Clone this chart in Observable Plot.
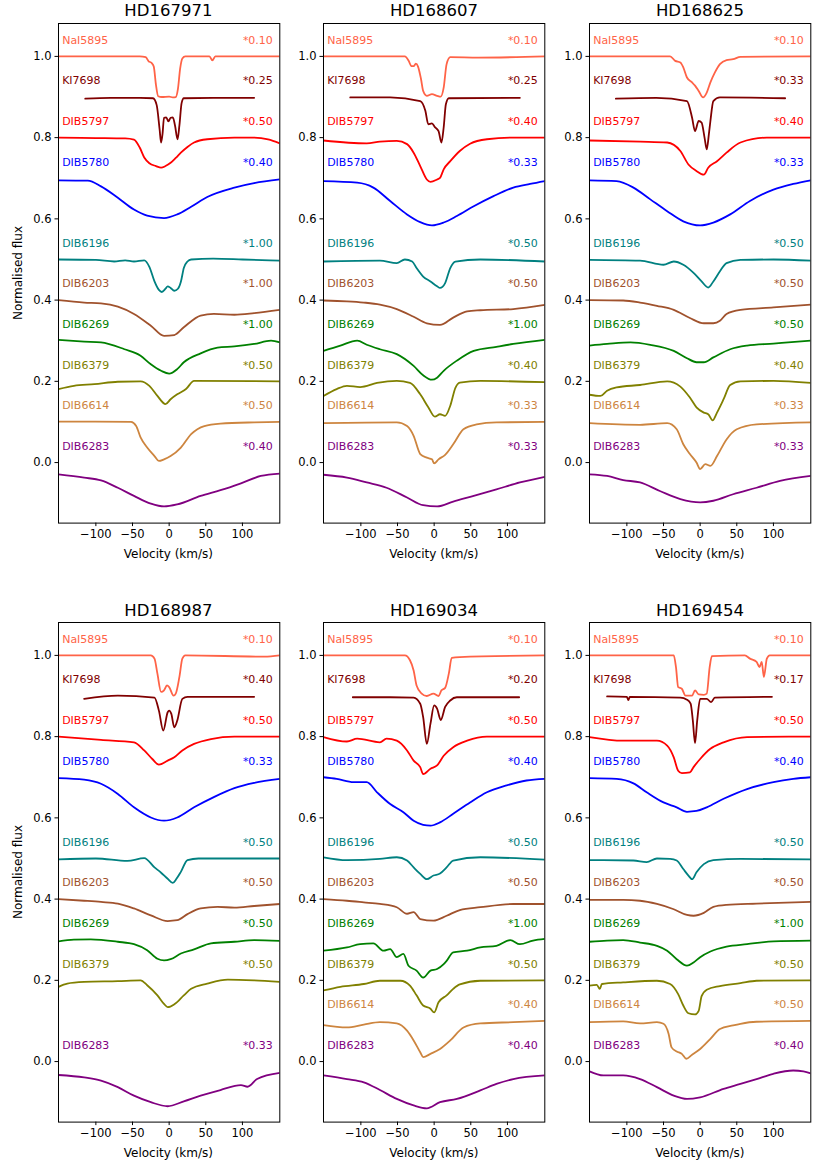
<!DOCTYPE html>
<html>
<head>
<meta charset="utf-8">
<script src="https://cdn.jsdelivr.net/npm/d3@7"></script>
<script src="https://cdn.jsdelivr.net/npm/@observablehq/plot@0.6"></script>
<style>
  html, body { margin: 0; padding: 0; background: #fff; }
  #fig { position: relative; width: 827px; height: 1169px; font-family: "DejaVu Sans", sans-serif; color: #000; }
  .ttl { position: absolute; font-size: 16.5px; transform: translate(-50%, -50%); white-space: nowrap; }
  .xl { position: absolute; font-size: 12px; transform: translate(-50%, -50%); white-space: nowrap; }
  .yl { position: absolute; font-size: 12px; transform: translate(-50%, -50%) rotate(-90deg); white-space: nowrap; }
  .pn { position: absolute; }
  #fig g[aria-label="x-axis tick label"], #fig g[aria-label="y-axis tick label"] { font-size: 11.5px; font-family: "DejaVu Sans", sans-serif; }
</style>
</head>
<body>
<div id="fig"></div>
<script>
// ---------- categories ----------
const stars = ["HD167971", "HD168607", "HD168625", "HD168987", "HD169034", "HD169454"];
const lineNames = ["NaI5895", "KI7698", "DIB5797", "DIB5780", "DIB6196", "DIB6203", "DIB6269", "DIB6379", "DIB6614", "DIB6283"];
const lineColors = ["#ff6347", "#800000", "#ff0000", "#0000ff", "#008080", "#a0522d", "#008000", "#808000", "#cd853f", "#800080"];
const labelLevels = [1.0, 0.9, 0.8, 0.7, 0.5, 0.4, 0.3, 0.2, 0.1, 0.0];
const xTicks = [-100, -50, 0, 50, 100];
const yTicks = [0.0, 0.2, 0.4, 0.6, 0.8, 1.0];

// scale factors shown at right of each profile (null = not plotted)
const factors_HD167971 = ["*0.10", "*0.25", "*0.50", "*0.40", "*1.00", "*1.00", "*1.00", "*0.50", "*0.50", "*0.40"];
const factors_HD168607 = ["*0.10", "*0.25", "*0.40", "*0.33", "*0.50", "*0.50", "*1.00", "*0.40", "*0.33", "*0.33"];
const factors_HD168625 = ["*0.10", "*0.33", "*0.40", "*0.33", "*0.50", "*0.50", "*0.50", "*0.40", "*0.33", "*0.33"];
const factors_HD168987 = ["*0.10", "*0.40", "*0.50", "*0.33", "*0.50", "*0.50", "*0.50", "*0.50", null, "*0.33"];
const factors_HD169034 = ["*0.10", "*0.20", "*0.50", "*0.40", "*0.50", "*0.50", "*1.00", "*0.50", "*0.40", "*0.40"];
const factors_HD169454 = ["*0.10", "*0.17", "*0.50", "*0.40", "*0.50", "*0.50", "*1.00", "*0.50", "*0.50", "*0.40"];

// ---------- HD167971 profiles [velocity, flux] ----------
const HD167971_NaI5895 = [[-151,1.0],[-100,1.0],[-40,1.0],[-32,0.998],[-28,0.988],[-24,0.984],[-21,0.975],[-18,0.93],[-15,0.902],[-10,0.9],[0,0.901],[5,0.899],[9,0.9],[12,0.92],[15,0.97],[18,0.995],[22,1.0],[55,1.0],[59,0.99],[63,1.0],[151,1.0]];
const HD167971_KI7698 = [[-114.5,0.896],[-80,0.898],[-40,0.898],[-22,0.897],[-17,0.88],[-13,0.82],[-11,0.788],[-9,0.81],[-7,0.849],[-4,0.85],[-1,0.84],[2,0.849],[5,0.85],[8,0.83],[11.4,0.796],[14,0.83],[17,0.885],[20,0.897],[60,0.898],[116,0.898]];
const HD167971_DIB5797 = [[-151,0.8],[-100,0.799],[-60,0.798],[-48,0.795],[-40,0.775],[-34,0.751],[-27,0.737],[-18,0.73],[-11,0.726],[-5,0.73],[2,0.738],[9,0.75],[16,0.763],[25,0.777],[34,0.788],[52,0.796],[89,0.8],[116,0.8],[135,0.796],[151,0.786]];
const HD167971_DIB5780 = [[-151,0.695],[-111,0.694],[-93,0.68],[-70,0.652],[-48,0.623],[-30,0.608],[-7,0.602],[11,0.611],[30,0.63],[52,0.654],[89,0.677],[116,0.688],[151,0.697]];
const HD167971_DIB6196 = [[-151,0.5],[-100,0.499],[-75,0.495],[-60,0.498],[-48,0.495],[-34,0.498],[-27,0.482],[-20,0.446],[-14,0.425],[-10,0.42],[-5,0.428],[-2,0.434],[2,0.43],[7,0.423],[12,0.428],[16,0.445],[20,0.479],[25,0.495],[30,0.5],[60,0.502],[100,0.5],[151,0.497]];
const HD167971_DIB6203 = [[-151,0.4],[-116,0.394],[-93,0.392],[-70,0.384],[-48,0.366],[-25,0.337],[-7,0.312],[7,0.314],[20,0.333],[43,0.362],[61,0.366],[89,0.364],[116,0.368],[151,0.376]];
const HD167971_DIB6269 = [[-151,0.302],[-116,0.298],[-93,0.296],[-61,0.279],[-39,0.263],[-25,0.242],[-11,0.226],[0,0.219],[11,0.23],[20,0.247],[43,0.269],[66,0.283],[89,0.286],[116,0.292],[139,0.3],[151,0.296]];
const HD167971_DIB6379 = [[-151,0.181],[-130,0.189],[-102,0.193],[-70,0.199],[-39,0.2],[-27,0.189],[-16,0.164],[-5,0.144],[2,0.156],[11,0.168],[23,0.181],[34,0.201],[151,0.2]];
const HD167971_DIB6614 = [[-151,0.101],[-52,0.1],[-45,0.09],[-39,0.062],[-30,0.037],[-20,0.016],[-14,0.004],[-7,0.008],[2,0.016],[16,0.037],[30,0.07],[48,0.09],[70,0.096],[116,0.099],[151,0.1]];
const HD167971_DIB6283 = [[-151,-0.029],[-116,-0.037],[-93,-0.044],[-70,-0.062],[-48,-0.082],[-25,-0.101],[-7,-0.108],[11,-0.103],[43,-0.082],[70,-0.068],[98,-0.051],[125,-0.033],[151,-0.027]];

// ---------- HD168607 ----------
const HD168607_NaI5895 = [[-151,1.0],[-40,1.0],[-35,0.99],[-31,0.976],[-28,0.976],[-25,0.982],[-22,0.975],[-18,0.945],[-15,0.915],[-10,0.903],[-3,0.907],[4,0.903],[9,0.901],[13,0.923],[17,0.981],[22,0.998],[60,0.997],[151,1.0]];
const HD168607_KI7698 = [[-114.5,0.899],[-60,0.899],[-19,0.89],[-12,0.866],[-8,0.833],[-3,0.835],[1,0.826],[6,0.816],[10,0.788],[13,0.825],[16,0.882],[20,0.897],[117,0.898]];
const HD168607_DIB5797 = [[-151,0.793],[-92,0.786],[-74,0.79],[-51,0.792],[-37,0.784],[-28,0.763],[-19,0.73],[-10,0.697],[-5,0.691],[4,0.697],[8,0.701],[13,0.722],[22,0.742],[35,0.767],[49,0.785],[72,0.796],[108,0.8],[151,0.8]];
const HD168607_DIB5780 = [[-151,0.693],[-105,0.689],[-83,0.677],[-60,0.644],[-37,0.611],[-19,0.592],[-3,0.584],[13,0.591],[31,0.607],[54,0.631],[81,0.656],[108,0.677],[131,0.686],[151,0.693]];
const HD168607_DIB6196 = [[-151,0.495],[-74,0.497],[-51,0.491],[-40,0.5],[-30,0.495],[-24,0.479],[-15,0.458],[-5,0.446],[4,0.434],[8,0.43],[15,0.442],[22,0.479],[29,0.495],[63,0.5],[151,0.495]];
const HD168607_DIB6203 = [[-151,0.399],[-119,0.397],[-96,0.394],[-74,0.389],[-51,0.378],[-28,0.359],[-10,0.343],[8,0.339],[26,0.357],[45,0.372],[63,0.375],[108,0.378],[151,0.388]];
const HD168607_DIB6269 = [[-151,0.275],[-128,0.288],[-105,0.3],[-92,0.29],[-74,0.279],[-51,0.267],[-28,0.238],[-15,0.215],[-3,0.204],[4,0.209],[13,0.226],[31,0.251],[54,0.275],[85,0.285],[108,0.292],[151,0.302]];
const HD168607_DIB6379 = [[-151,0.164],[-133,0.181],[-119,0.189],[-101,0.186],[-78,0.196],[-51,0.201],[-33,0.196],[-19,0.168],[-8,0.136],[1,0.113],[8,0.119],[15,0.115],[22,0.14],[29,0.184],[35,0.197],[63,0.201],[151,0.198]];
const HD168607_DIB6614 = [[-151,0.097],[-51,0.099],[-37,0.09],[-28,0.066],[-19,0.021],[-10,0.012],[-3,0.008],[0,-0.002],[6,0.008],[15,0.019],[26,0.045],[40,0.082],[58,0.094],[85,0.099],[151,0.1]];
const HD168607_DIB6283 = [[-151,-0.03],[-119,-0.037],[-92,-0.049],[-65,-0.062],[-37,-0.086],[-15,-0.105],[4,-0.108],[26,-0.096],[54,-0.082],[85,-0.066],[117,-0.049],[151,-0.035]];

// ---------- HD168625 ----------
const HD168625_NaI5895 = [[-151,1.0],[-41,1.0],[-34,0.989],[-27,0.985],[-23,0.973],[-18,0.948],[-11,0.936],[-7,0.928],[-2,0.915],[4,0.899],[9,0.911],[14,0.936],[20,0.96],[27,0.981],[36,0.991],[45,0.993],[55,0.999],[151,1.0]];
const HD168625_KI7698 = [[-115,0.896],[-60,0.898],[-18,0.89],[-11,0.849],[-7,0.816],[-2,0.841],[2,0.837],[6,0.8],[9,0.771],[12,0.81],[14,0.841],[18,0.89],[27,0.899],[116,0.897]];
const HD168625_DIB5797 = [[-151,0.793],[-82,0.79],[-45,0.788],[-27,0.767],[-16,0.734],[-5,0.718],[5,0.709],[11,0.726],[23,0.742],[36,0.763],[55,0.788],[91,0.8],[151,0.8]];
const HD168625_DIB5780 = [[-151,0.695],[-114,0.693],[-91,0.677],[-68,0.648],[-45,0.619],[-23,0.594],[0,0.584],[18,0.591],[41,0.611],[68,0.644],[100,0.672],[127,0.686],[151,0.695]];
const HD168625_DIB6196 = [[-151,0.499],[-82,0.497],[-50,0.487],[-36,0.495],[-23,0.487],[-9,0.467],[2,0.446],[11,0.431],[18,0.446],[27,0.471],[36,0.491],[55,0.499],[100,0.5],[151,0.497]];
const HD168625_DIB6203 = [[-151,0.4],[-105,0.399],[-82,0.394],[-59,0.386],[-36,0.376],[-14,0.356],[5,0.343],[18,0.343],[27,0.349],[36,0.366],[55,0.376],[100,0.382],[151,0.389]];
const HD168625_DIB6269 = [[-151,0.288],[-127,0.292],[-95,0.296],[-68,0.29],[-36,0.275],[-18,0.257],[-5,0.247],[5,0.247],[18,0.259],[41,0.279],[64,0.288],[100,0.293],[151,0.3]];
const HD168625_DIB6379 = [[-151,0.167],[-136,0.164],[-127,0.177],[-114,0.185],[-82,0.191],[-45,0.2],[-27,0.187],[-14,0.16],[-5,0.136],[5,0.123],[11,0.119],[17,0.104],[23,0.123],[32,0.156],[41,0.191],[55,0.2],[100,0.201],[151,0.196]];
const HD168625_DIB6614 = [[-151,0.097],[-82,0.093],[-45,0.097],[-32,0.082],[-23,0.045],[-14,0.021],[-5,0.0],[0,-0.016],[7,-0.004],[14,-0.008],[23,0.016],[36,0.057],[50,0.082],[77,0.094],[151,0.099]];
const HD168625_DIB6283 = [[-151,-0.029],[-127,-0.033],[-105,-0.043],[-82,-0.049],[-55,-0.07],[-27,-0.09],[0,-0.098],[18,-0.094],[45,-0.078],[77,-0.062],[109,-0.045],[151,-0.033]];

// ---------- HD168987 ----------
const HD168987_NaI5895 = [[-151,1.0],[-25,1.0],[-20,0.992],[-16,0.955],[-11,0.91],[-7,0.914],[-3,0.926],[0,0.922],[6,0.901],[9,0.906],[14,0.947],[18,0.992],[22,1.0],[130,0.997],[151,1.0]];
const HD168987_KI7698 = [[-116,0.893],[-70,0.901],[-20,0.896],[-14,0.864],[-8,0.815],[-2,0.86],[0,0.864],[3,0.856],[7,0.823],[11,0.839],[18,0.893],[25,0.898],[116,0.898]];
const HD168987_DIB5797 = [[-151,0.8],[-93,0.792],[-48,0.786],[-34,0.766],[-23,0.745],[-14,0.731],[-2,0.741],[7,0.749],[18,0.766],[34,0.782],[57,0.794],[89,0.8],[151,0.8]];
const HD168987_DIB5780 = [[-151,0.698],[-116,0.694],[-93,0.684],[-70,0.659],[-48,0.626],[-25,0.601],[-7,0.593],[11,0.601],[34,0.626],[61,0.651],[89,0.673],[116,0.686],[151,0.696]];
const HD168987_DIB6196 = [[-151,0.498],[-100,0.5],[-57,0.494],[-34,0.501],[-20,0.478],[-11,0.465],[-2,0.45],[5,0.44],[10,0.45],[16,0.467],[25,0.496],[40,0.5],[151,0.5]];
const HD168987_DIB6203 = [[-151,0.4],[-116,0.396],[-93,0.393],[-70,0.389],[-48,0.377],[-25,0.36],[-2,0.346],[11,0.348],[25,0.363],[43,0.377],[66,0.381],[89,0.379],[116,0.383],[151,0.388]];
const HD168987_DIB6269 = [[-151,0.296],[-130,0.3],[-107,0.301],[-70,0.295],[-48,0.289],[-30,0.274],[-16,0.253],[-7,0.249],[2,0.252],[16,0.266],[34,0.276],[57,0.291],[89,0.295],[116,0.299],[151,0.297]];
const HD168987_DIB6379 = [[-151,0.184],[-139,0.192],[-116,0.196],[-70,0.198],[-39,0.2],[-30,0.188],[-16,0.163],[-7,0.142],[-2,0.134],[7,0.141],[20,0.163],[30,0.179],[52,0.192],[80,0.202],[116,0.2],[151,0.196]];
const HD168987_DIB6614 = [];
const HD168987_DIB6283 = [[-151,-0.033],[-116,-0.039],[-93,-0.047],[-70,-0.063],[-48,-0.084],[-25,-0.1],[-2,-0.11],[20,-0.098],[43,-0.084],[70,-0.07],[98,-0.058],[107,-0.062],[120,-0.043],[151,-0.028]];

// ---------- HD169034 ----------
const HD169034_NaI5895 = [[-151,1.0],[-40,1.0],[-33,0.988],[-28,0.963],[-24,0.926],[-17,0.906],[-10,0.9],[-1,0.906],[6,0.9],[10,0.914],[15,0.92],[20,0.955],[24,0.994],[35,0.996],[151,1.0]];
const HD169034_KI7698 = [[-111,0.897],[-60,0.897],[-28,0.896],[-19,0.881],[-15,0.848],[-10,0.782],[-5,0.832],[0,0.877],[4,0.869],[9,0.841],[15,0.873],[22,0.889],[31,0.897],[116,0.897]];
const HD169034_DIB5797 = [[-151,0.799],[-119,0.788],[-105,0.795],[-74,0.786],[-65,0.795],[-51,0.79],[-37,0.766],[-28,0.741],[-19,0.725],[-15,0.708],[-5,0.721],[4,0.729],[13,0.753],[26,0.774],[45,0.79],[72,0.8],[151,0.8]];
const HD169034_DIB5780 = [[-151,0.7],[-133,0.696],[-110,0.688],[-92,0.688],[-78,0.663],[-60,0.634],[-42,0.614],[-28,0.593],[-15,0.583],[-5,0.581],[8,0.589],[26,0.61],[49,0.638],[72,0.663],[99,0.68],[126,0.692],[151,0.696]];
const HD169034_DIB6196 = [[-151,0.503],[-119,0.496],[-74,0.499],[-51,0.503],[-37,0.495],[-28,0.478],[-19,0.462],[-10,0.449],[-1,0.458],[8,0.463],[17,0.478],[26,0.495],[63,0.503],[151,0.497]];
const HD169034_DIB6203 = [[-151,0.4],[-119,0.396],[-96,0.392],[-74,0.388],[-51,0.38],[-37,0.364],[-28,0.368],[-19,0.351],[-1,0.347],[17,0.359],[35,0.373],[63,0.38],[108,0.388],[151,0.388]];
const HD169034_DIB6269 = [[-151,0.273],[-119,0.281],[-101,0.289],[-83,0.291],[-69,0.273],[-60,0.277],[-51,0.257],[-42,0.265],[-35,0.236],[-24,0.224],[-15,0.207],[-5,0.224],[4,0.228],[13,0.24],[17,0.248],[26,0.269],[45,0.273],[63,0.281],[85,0.285],[104,0.299],[117,0.289],[135,0.298],[151,0.302]];
const HD169034_DIB6379 = [[-151,0.175],[-128,0.184],[-96,0.191],[-74,0.199],[-46,0.199],[-33,0.187],[-24,0.163],[-15,0.138],[-5,0.13],[0,0.121],[6,0.146],[17,0.163],[26,0.179],[35,0.19],[63,0.199],[151,0.2]];
const HD169034_DIB6614 = [[-151,0.09],[-119,0.084],[-96,0.091],[-74,0.097],[-51,0.094],[-37,0.076],[-28,0.052],[-19,0.023],[-15,0.011],[-5,0.019],[8,0.031],[22,0.052],[40,0.084],[63,0.094],[108,0.097],[151,0.1]];
const HD169034_DIB6283 = [[-151,-0.034],[-119,-0.043],[-96,-0.051],[-74,-0.07],[-51,-0.092],[-28,-0.108],[-10,-0.115],[8,-0.1],[31,-0.092],[63,-0.071],[85,-0.055],[108,-0.043],[151,-0.034]];

// ---------- HD169454 ----------
const HD169454_NaI5895 = [[-151,1.0],[-36,1.0],[-33,0.971],[-30,0.922],[-25,0.918],[-20,0.901],[-11,0.901],[-7,0.914],[-2,0.904],[5,0.903],[9,0.906],[13,0.971],[16,0.998],[61,1.0],[68,0.992],[77,0.984],[81,0.971],[84,0.984],[87,0.947],[91,0.992],[95,1.0],[151,1.0]];
const HD169454_KI7698 = [[-127,0.899],[-100,0.898],[-98,0.89],[-96,0.898],[-27,0.896],[-18,0.891],[-13,0.881],[-10,0.84],[-7,0.784],[-4,0.84],[0,0.893],[9,0.893],[15,0.885],[20,0.896],[98,0.898]];
const HD169454_DIB5797 = [[-151,0.799],[-105,0.79],[-59,0.79],[-45,0.778],[-36,0.749],[-30,0.716],[-25,0.71],[-14,0.712],[-9,0.725],[0,0.745],[14,0.77],[32,0.786],[64,0.799],[151,0.8]];
const HD169454_DIB5780 = [[-151,0.698],[-114,0.696],[-91,0.685],[-73,0.663],[-50,0.638],[-32,0.626],[-18,0.615],[-5,0.617],[9,0.626],[32,0.647],[64,0.671],[100,0.688],[127,0.696],[151,0.7]];
const HD169454_DIB6196 = [[-151,0.496],[-91,0.495],[-73,0.491],[-59,0.5],[-41,0.499],[-32,0.495],[-23,0.474],[-16,0.458],[-11,0.449],[-5,0.466],[5,0.486],[18,0.496],[55,0.499],[151,0.498]];
const HD169454_DIB6203 = [[-151,0.398],[-105,0.398],[-82,0.396],[-59,0.388],[-36,0.375],[-18,0.361],[-9,0.359],[5,0.366],[18,0.381],[36,0.386],[77,0.389],[151,0.393]];
const HD169454_DIB6269 = [[-151,0.295],[-127,0.298],[-105,0.299],[-82,0.293],[-59,0.285],[-45,0.273],[-32,0.252],[-18,0.236],[-9,0.244],[0,0.257],[14,0.271],[36,0.283],[64,0.289],[100,0.296],[151,0.298]];
const HD169454_DIB6379 = [[-151,0.187],[-141,0.189],[-137,0.179],[-134,0.191],[-105,0.195],[-59,0.199],[-41,0.191],[-30,0.166],[-23,0.138],[-16,0.119],[-7,0.116],[-2,0.125],[2,0.161],[9,0.177],[27,0.186],[55,0.193],[77,0.199],[151,0.2]];
const HD169454_DIB6614 = [[-151,0.097],[-105,0.099],[-82,0.094],[-59,0.097],[-50,0.093],[-43,0.068],[-39,0.035],[-32,0.025],[-25,0.019],[-19,0.007],[-11,0.017],[0,0.031],[14,0.056],[27,0.08],[45,0.089],[55,0.093],[77,0.098],[151,0.1]];
const HD169454_DIB6283 = [[-151,-0.024],[-132,-0.034],[-105,-0.034],[-82,-0.043],[-59,-0.063],[-36,-0.084],[-18,-0.092],[0,-0.088],[32,-0.067],[55,-0.055],[77,-0.043],[100,-0.03],[127,-0.022],[141,-0.024],[151,-0.029]];

// ---------- tables built from the arrays above ----------
const profiles = {
  HD167971: [HD167971_NaI5895, HD167971_KI7698, HD167971_DIB5797, HD167971_DIB5780, HD167971_DIB6196, HD167971_DIB6203, HD167971_DIB6269, HD167971_DIB6379, HD167971_DIB6614, HD167971_DIB6283],
  HD168607: [HD168607_NaI5895, HD168607_KI7698, HD168607_DIB5797, HD168607_DIB5780, HD168607_DIB6196, HD168607_DIB6203, HD168607_DIB6269, HD168607_DIB6379, HD168607_DIB6614, HD168607_DIB6283],
  HD168625: [HD168625_NaI5895, HD168625_KI7698, HD168625_DIB5797, HD168625_DIB5780, HD168625_DIB6196, HD168625_DIB6203, HD168625_DIB6269, HD168625_DIB6379, HD168625_DIB6614, HD168625_DIB6283],
  HD168987: [HD168987_NaI5895, HD168987_KI7698, HD168987_DIB5797, HD168987_DIB5780, HD168987_DIB6196, HD168987_DIB6203, HD168987_DIB6269, HD168987_DIB6379, HD168987_DIB6614, HD168987_DIB6283],
  HD169034: [HD169034_NaI5895, HD169034_KI7698, HD169034_DIB5797, HD169034_DIB5780, HD169034_DIB6196, HD169034_DIB6203, HD169034_DIB6269, HD169034_DIB6379, HD169034_DIB6614, HD169034_DIB6283],
  HD169454: [HD169454_NaI5895, HD169454_KI7698, HD169454_DIB5797, HD169454_DIB5780, HD169454_DIB6196, HD169454_DIB6203, HD169454_DIB6269, HD169454_DIB6379, HD169454_DIB6614, HD169454_DIB6283]
};
const factors = {
  HD167971: factors_HD167971, HD168607: factors_HD168607, HD168625: factors_HD168625,
  HD168987: factors_HD168987, HD169034: factors_HD169034, HD169454: factors_HD169454
};

// ---------- layout ----------
const frameLefts = [57.7, 323.3, 589.3];
const frameTops = [22.7, 622.3];
const frameW = 221.3, frameH = 499.6;
const mL = 58, mT = 23, mR = 10, mB = 40;

const fig = document.getElementById("fig");
const fmtX = d => d < 0 ? "\u2212" + Math.abs(d) : String(d);
const fmtY = d3.format(".1f");

stars.forEach((star, i) => {
  const col = i % 3, row = Math.floor(i / 3);
  const fl = frameLefts[col], ft = frameTops[row];
  const rows = [];
  const labels = [];
  lineNames.forEach((name, k) => {
    const f = factors[star][k];
    if (f == null) return;
    profiles[star][k].forEach(([v, y]) => rows.push({v, y, name}));
    labels.push({x: -146, y: labelLevels[k] + 0.04, text: name, name, anchor: "start"});
    labels.push({x: 141.5, y: labelLevels[k] + 0.04, text: f, name, anchor: "end"});
  });
  const chart = Plot.plot({
    width: mL + frameW + mR,
    height: mT + frameH + mB,
    marginLeft: mL, marginTop: mT, marginRight: mR, marginBottom: mB,
    style: {fontFamily: "DejaVu Sans, sans-serif", fontSize: "11.5px", color: "#000", background: "transparent", overflow: "visible"},
    x: {domain: [-151, 151]},
    y: {domain: [-0.149, 1.081]},
    color: {domain: lineNames, range: lineColors},
    marks: [
      Plot.axisX({ticks: xTicks, tickFormat: fmtX, tickSize: 3.5, tickPadding: 3, fontSize: 11.5, label: null, stroke: "#000", fill: "#000"}),
      Plot.axisY({ticks: yTicks, tickFormat: fmtY, tickSize: 3.5, tickPadding: 3.5, fontSize: 11.5, label: null, stroke: "#000", fill: "#000"}),
      Plot.line(rows, {x: "v", y: "y", z: "name", stroke: "name", strokeWidth: 1.8, curve: "monotone-x", clip: true}),
      Plot.text(labels.filter(d => d.anchor === "start"), {x: "x", y: "y", text: "text", fill: "name", textAnchor: "start", fontSize: 11}),
      Plot.text(labels.filter(d => d.anchor === "end"), {x: "x", y: "y", text: "text", fill: "name", textAnchor: "end", fontSize: 11}),
      Plot.frame({stroke: "#000", strokeWidth: 1})
    ]
  });
  const wrap = document.createElement("div");
  wrap.className = "pn";
  wrap.style.left = (fl - mL) + "px";
  wrap.style.top = (ft - mT) + "px";
  wrap.appendChild(chart);
  fig.appendChild(wrap);

  const t = document.createElement("div");
  t.className = "ttl";
  t.textContent = star;
  t.style.left = (fl + frameW / 2) + "px";
  t.style.top = (ft - 12.7) + "px";
  fig.appendChild(t);

  const xl = document.createElement("div");
  xl.className = "xl";
  xl.textContent = "Velocity (km/s)";
  xl.style.left = (fl + frameW / 2) + "px";
  xl.style.top = (ft + frameH + 31.5) + "px";
  fig.appendChild(xl);

  if (col === 0) {
    const yl = document.createElement("div");
    yl.className = "yl";
    yl.textContent = "Normalised flux";
    yl.style.left = "18px";
    yl.style.top = (ft + frameH / 2) + "px";
    fig.appendChild(yl);
  }
});
</script>
</body>
</html>
